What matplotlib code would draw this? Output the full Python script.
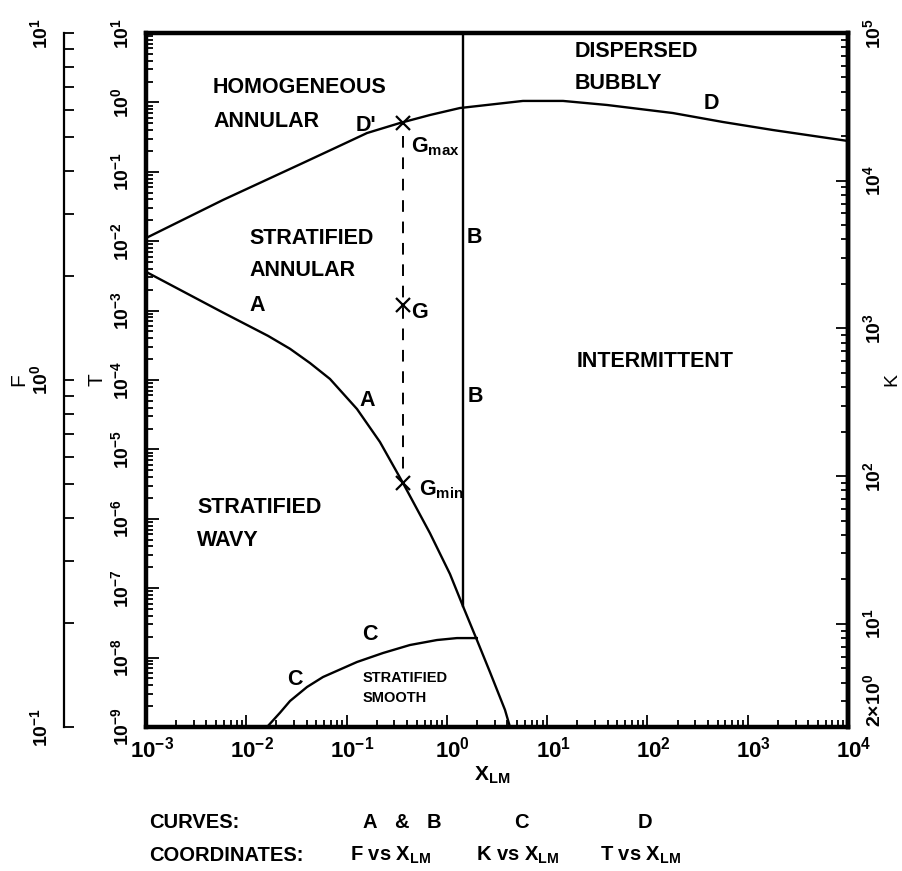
import numpy as np
import matplotlib
matplotlib.use('Agg')
import matplotlib.pyplot as plt
from matplotlib.ticker import LogLocator, NullFormatter
from matplotlib.transforms import ScaledTranslation

plt.rcParams['font.family'] = ['Liberation Sans', 'DejaVu Sans']
plt.rcParams['font.weight'] = 'bold'
plt.rcParams['mathtext.default'] = 'regular'

# --- data (X_LM on the shared log x axis) ---
# curve A : F vs X_LM
A_x = [0.001, 0.00572, 0.0165, 0.0273, 0.0432, 0.0683, 0.127, 0.215, 0.365, 0.678, 1.074, 1.447,
       1.996, 2.69, 3.80, 4.26]
A_F = [2.05, 1.57, 1.34, 1.23, 1.119, 1.007, 0.825, 0.663, 0.505, 0.362, 0.276, 0.223,
       0.178, 0.144, 0.112, 0.1]
# curve B : F vs X_LM (vertical)
B_x = [1.447, 1.447]
B_F = [10.0, 0.223]
# curve C : K vs X_LM
C_x = [0.0161, 0.0217, 0.0273, 0.0403, 0.0582, 0.127, 0.231, 0.428, 0.796, 1.26, 1.99]
C_K = [2.0, 2.50, 3.00, 3.73, 4.36, 5.51, 6.34, 7.18, 7.76, 8.0, 8.0]
# curve D : T vs X_LM
D_x = [0.001, 0.00586, 0.0367, 0.0766, 0.160, 0.341, 0.678, 1.35, 5.74, 14.4, 39.5, 179, 566,
       1783, 10000]
D_T = [0.0111, 0.0393, 0.134, 0.220, 0.362, 0.505, 0.658, 0.830, 1.05, 1.05, 0.918, 0.703,
       0.522, 0.400, 0.278]
# G points (F coordinates) on the dashed line
G_x = 0.365
G_F = [5.5, 1.64, 0.505]          # G_max, G, G_min

x_exp = list(range(-3, 5))
T_exp = list(range(1, -10, -1))
F_exp = [1, 0, -1]
K_ticks = [2, 10, 100, 1000, 10000, 100000]
K_labels = [r'$2{\times}10^{0}$', r'$10^{1}$', r'$10^{2}$', r'$10^{3}$', r'$10^{4}$', r'$10^{5}$']

fig = plt.figure(figsize=(9.02, 8.71), dpi=100)
ax = fig.add_axes([146 / 902, 144 / 871, 702 / 902, 694 / 871])
axF = ax.twinx()
axK = ax.twinx()

# main axis: X_LM and T
ax.set_xscale('log'); ax.set_yscale('log')
ax.set_xlim(1e-3, 1e4); ax.set_ylim(1e-9, 1e1)
ax.set_xticks([10.0 ** e for e in x_exp], labels=[r'$10^{%d}$' % e for e in x_exp], fontsize=16)
ax.set_yticks([10.0 ** e for e in T_exp], labels=[r'$10^{%d}$' % e for e in T_exp], fontsize=14)
ax.xaxis.set_minor_locator(LogLocator(base=10, subs=np.arange(2, 10), numticks=200))
ax.xaxis.set_minor_formatter(NullFormatter())
ax.yaxis.set_minor_locator(LogLocator(base=10, subs=np.arange(2, 10), numticks=200))
ax.yaxis.set_minor_formatter(NullFormatter())
ax.tick_params(axis='both', which='both', direction='in', top=False, right=False, width=1.3)
ax.tick_params(axis='both', which='major', length=9)
ax.tick_params(axis='both', which='minor', length=5)
ax.tick_params(axis='x', which='major', pad=7)
ax.tick_params(axis='y', which='major', pad=10)
plt.setp(ax.get_yticklabels(), rotation=90, va='center')
for lab in ax.get_xticklabels():
    lab.set_transform(lab.get_transform() + ScaledTranslation(6 / 100, 0, fig.dpi_scale_trans))
for s in ax.spines.values():
    s.set_linewidth(3.2)
ax.set_ylabel('T', fontsize=15, labelpad=3)

# outer F axis
axF.set_yscale('log'); axF.set_ylim(0.1, 10)
for k in ('right', 'top', 'bottom'):
    axF.spines[k].set_visible(False)
axF.spines['left'].set_visible(True)
axF.spines['left'].set_position(('axes', -0.117))
axF.spines['left'].set_linewidth(1.6)
axF.yaxis.set_ticks_position('left'); axF.yaxis.set_label_position('left')
axF.set_yticks([10.0 ** e for e in F_exp], labels=[r'$10^{%d}$' % e for e in F_exp], fontsize=14)
axF.yaxis.set_minor_locator(LogLocator(base=10, subs=np.arange(2, 10), numticks=50))
axF.yaxis.set_minor_formatter(NullFormatter())
axF.tick_params(axis='y', which='both', direction='in', length=7, width=1.3, pad=9)
plt.setp(axF.get_yticklabels(), rotation=90, va='center')
axF.set_ylabel('F', fontsize=15, labelpad=1)

# right K axis
axK.set_yscale('log'); axK.set_ylim(2, 1e5)
for k in ('left', 'top', 'bottom'):
    axK.spines[k].set_visible(False)
axK.spines['right'].set_linewidth(3.2)
axK.set_yticks(K_ticks, labels=K_labels, fontsize=14)
axK.yaxis.set_minor_locator(LogLocator(base=10, subs=np.arange(2, 10), numticks=100))
axK.yaxis.set_minor_formatter(NullFormatter())
axK.tick_params(axis='y', which='both', direction='in', width=1.3, pad=10)
axK.tick_params(axis='y', which='major', length=9)
axK.tick_params(axis='y', which='minor', length=5)
plt.setp(axK.get_yticklabels(), rotation=90, va='center')
axK.get_yticklabels()[0].set_va('bottom')
axK.set_ylabel('K', fontsize=14, labelpad=0)

# curves
lw = 1.7
axF.plot(A_x, A_F, color='black', lw=lw, solid_joinstyle='round')
axF.plot(B_x, B_F, color='black', lw=lw)
axK.plot(C_x, C_K, color='black', lw=lw, solid_joinstyle='round')
ax.plot(D_x, D_T, color='black', lw=lw, solid_joinstyle='round')
dash, = axF.plot([G_x, G_x], [G_F[0] * 0.92, G_F[2] * 1.05], color='black', lw=1.4)
dash.set_dashes([6, 5])
axF.plot([G_x] * 3, G_F, linestyle='none', marker='x', ms=10, mew=1.6, color='black')

# region labels (axes fractions)
big = 15.5
tr = ax.transAxes
def lab(s, x, y, size=big, ha='left'):
    ax.text(x, y, s, transform=tr, fontsize=size, ha=ha, va='center', fontweight='bold')

lab('HOMOGENEOUS', 0.0954, 0.921); lab('ANNULAR', 0.0954, 0.873)
lab("D'", 0.313, 0.866, ha='center')
lab('STRATIFIED', 0.148, 0.704); lab('ANNULAR', 0.148, 0.658)
lab('A', 0.158, 0.608, ha='center')
lab('B', 0.468, 0.705, ha='center')
lab('A', 0.315, 0.471, ha='center')
lab('B', 0.469, 0.476, ha='center')
lab('STRATIFIED', 0.0726, 0.317); lab('WAVY', 0.0726, 0.269)
lab('C', 0.319, 0.134, ha='center')
lab('C', 0.212, 0.068, ha='center')
lab('STRATIFIED', 0.308, 0.0706, size=10.5); lab('SMOOTH', 0.308, 0.0418, size=10.5)
lab('DISPERSED', 0.611, 0.974); lab('BUBBLY', 0.611, 0.927)
lab('D', 0.806, 0.899, ha='center')
lab('INTERMITTENT', 0.613, 0.526)
lab(r'$G_{max}$', 0.378, 0.836)
lab(r'$G$', 0.378, 0.597)
lab(r'$G_{min}$', 0.389, 0.342)

# x label and legend block
fig.text(492 / 902, 1 - 775 / 871, r'X$_{LM}$', fontsize=15, ha='center', va='center')
fs = 14.5
y1 = 1 - 822 / 871
y2 = 1 - 855 / 871
fig.text(149 / 902, y1, 'CURVES:', fontsize=fs, va='center')
fig.text(370 / 902, y1, 'A', fontsize=fs, va='center', ha='center')
fig.text(401 / 902, y1, '&', fontsize=fs, va='center', ha='center')
fig.text(434 / 902, y1, 'B', fontsize=fs, va='center', ha='center')
fig.text(521 / 902, y1, 'C', fontsize=fs, va='center', ha='center')
fig.text(645 / 902, y1, 'D', fontsize=fs, va='center', ha='center')
fig.text(149 / 902, y2, 'COORDINATES:', fontsize=fs, va='center')
fig.text(350 / 902, y2, r'F vs X$_{LM}$', fontsize=fs, va='center')
fig.text(476 / 902, y2, r'K vs X$_{LM}$', fontsize=fs, va='center')
fig.text(600 / 902, y2, r'T vs X$_{LM}$', fontsize=fs, va='center')

fig.savefig('out.png', dpi=100)
